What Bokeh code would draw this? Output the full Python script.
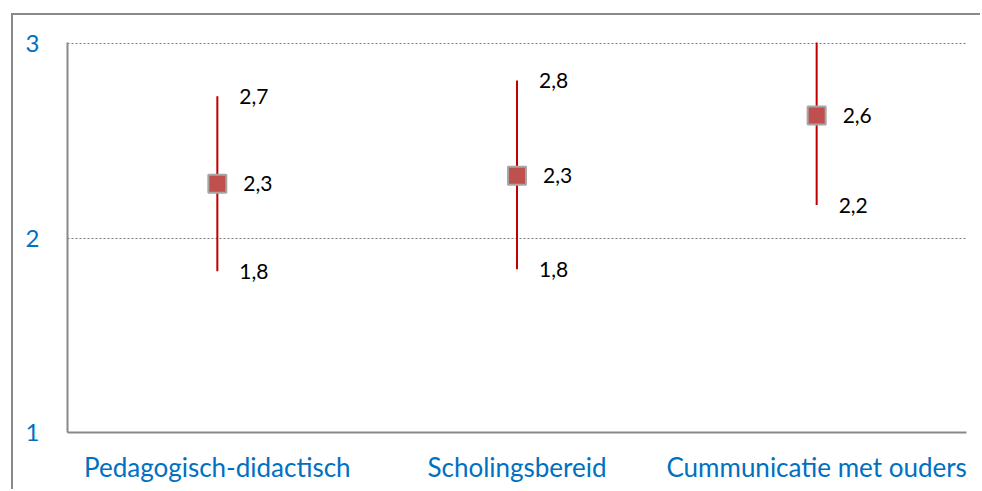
from bokeh.plotting import figure
from bokeh.models import FactorRange, Range1d, FixedTicker, ColumnDataSource
from bokeh.core.properties import value
from bokeh.embed import file_html
from bokeh.resources import INLINE

categories = ["Pedagogisch-didactisch", "Scholingsbereid", "Cummunicatie met ouders"]
mean_values = [2.28, 2.32, 2.63]
high_values = [2.73, 2.81, 3.10]
low_values = [1.83, 1.84, 2.17]
y_ticks = [1, 2, 3]
y_min, y_max = 1, 3

FONT = "Lato"
BLUE = "#0070c0"
GRAY = "#898989"

p = figure(x_range=FactorRange(*categories, range_padding=0),
           y_range=Range1d(y_min, y_max + 0.006),
           width=969, height=476,
           output_backend="svg", toolbar_location=None,
           min_border_left=54, min_border_right=16,
           min_border_top=27, min_border_bottom=59)
p.margin = (13, 0, 0, 11)
p.styles = {"border-left": "2px solid " + GRAY, "border-top": "2px solid " + GRAY}
p.outline_line_color = None
p.background_fill_color = "white"
p.border_fill_color = "white"

# axes
p.yaxis.ticker = FixedTicker(ticks=y_ticks)
p.yaxis.major_tick_line_color = None
p.yaxis.minor_tick_line_color = None
p.yaxis.major_label_standoff = 22
p.yaxis.axis_line_color = GRAY
p.yaxis.axis_line_width = 2
p.yaxis.major_label_text_color = BLUE
p.yaxis.major_label_text_font = FONT
p.yaxis.major_label_text_font_size = "24px"

p.xaxis.major_tick_line_color = None
p.xaxis.minor_tick_line_color = None
p.xaxis.major_label_standoff = 12
p.xaxis.axis_line_color = GRAY
p.xaxis.axis_line_width = 2
p.xaxis.major_label_text_color = BLUE
p.xaxis.major_label_text_font = FONT
p.xaxis.major_label_text_font_size = "26px"

p.xgrid.grid_line_color = None
p.ygrid.ticker = FixedTicker(ticks=[2, 3])
p.ygrid.grid_line_color = "#7a7a7a"
p.ygrid.grid_line_dash = "2 2"
p.ygrid.grid_line_width = 1

# error bars
p.segment(x0=categories, y0=low_values, x1=categories, y1=high_values,
          line_color="#c00000", line_width=2)

# mean markers
p.scatter(x=categories, y=mean_values, marker="square", size=18,
          fill_color="#c0504d", line_color="#a6a6a6", line_width=2)

# value labels
lx, ly, lt, lo = [], [], [], []
for c, m, h, l in zip(categories, mean_values, high_values, low_values):
    for v, off in ((h, 22), (m, 26), (l, 22)):
        if y_min <= v <= y_max:
            lx.append(c)
            ly.append(v)
            lt.append(f"{v:.1f}".replace(".", ","))
            lo.append(off)
src = ColumnDataSource(dict(x=lx, y=ly, t=lt, o=lo))
p.text(x="x", y="y", text="t", x_offset="o", source=src,
       text_align="left", text_baseline="middle",
       text_font=value(FONT), text_font_size="21px", text_color="black")

open("out.html", "w").write(file_html(p, INLINE))
